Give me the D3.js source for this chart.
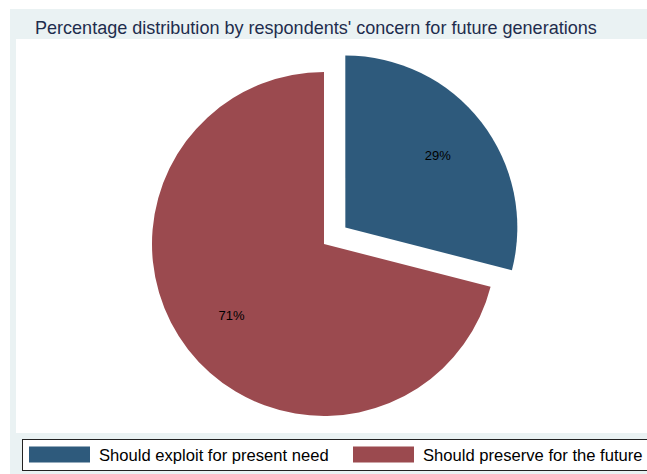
<!DOCTYPE html>
<html>
<head>
<meta charset="utf-8">
<script src="https://cdn.jsdelivr.net/npm/d3@7"></script>
<style>
  html, body { margin: 0; padding: 0; background: #ffffff; }
  svg { display: block; font-family: "Liberation Sans", Arial, Helvetica, sans-serif; }
</style>
</head>
<body>
<script>
// Survey responses: concern for future generations
const categories = ["Should exploit for present need", "Should preserve for the future"];
const values = [29, 71];
const colors = ["#2e5a7c", "#9b4a4f"];
const title = "Percentage distribution by respondents' concern for future generations";

const W = 647, H = 474;
const svg = d3.select("body").append("svg").attr("width", W).attr("height", H);

// Background panels
svg.append("rect").attr("x", 10).attr("y", 9).attr("width", W - 10).attr("height", H - 9).attr("fill", "#eaf2f3");
svg.append("rect").attr("x", 16).attr("y", 39).attr("width", W - 16).attr("height", 394).attr("fill", "#ffffff");

// Title
svg.append("text").attr("x", 35).attr("y", 33.5)
  .attr("font-size", 18.05).attr("fill", "#1e2d4d")
  .text(title);

// Pie
const cx = 324, cy = 244, r = 172, explode = 27;
const pie = d3.pie().sort(null).startAngle(0).endAngle(2 * Math.PI).value(d => d);
const arcs = pie(values);
const arc = d3.arc().innerRadius(0).outerRadius(r);
const total = d3.sum(values);

const g = svg.append("g").attr("transform", `translate(${cx},${cy})`);
arcs.forEach((a, i) => {
  const mid = (a.startAngle + a.endAngle) / 2;
  const off = i === 0 ? explode : 0;
  const dx = Math.sin(mid) * off, dy = -Math.cos(mid) * off;
  const sg = g.append("g").attr("transform", `translate(${dx},${dy})`);
  sg.append("path").attr("d", arc(a)).attr("fill", colors[i]);
  const lr = r * 0.68;
  sg.append("text")
    .attr("x", Math.sin(mid) * lr).attr("y", -Math.cos(mid) * lr)
    .attr("text-anchor", "middle").attr("dominant-baseline", "central")
    .attr("font-size", 13).attr("fill", "#000")
    .text(Math.round(a.value / total * 100) + "%");
});

// Legend
svg.append("rect").attr("x", 22.5).attr("y", 439.5).attr("width", 626).attr("height", 31)
  .attr("fill", "#ffffff").attr("stroke", "#222").attr("stroke-width", 1);
const legendX = [29, 353];
categories.forEach((c, i) => {
  svg.append("rect").attr("x", legendX[i]).attr("y", 446.5).attr("width", 61).attr("height", 16)
    .attr("fill", colors[i]);
  svg.append("text").attr("x", legendX[i] + 70).attr("y", 460.7)
    .attr("font-size", 16.6).attr("fill", "#000").text(c);
});
</script>
</body>
</html>
